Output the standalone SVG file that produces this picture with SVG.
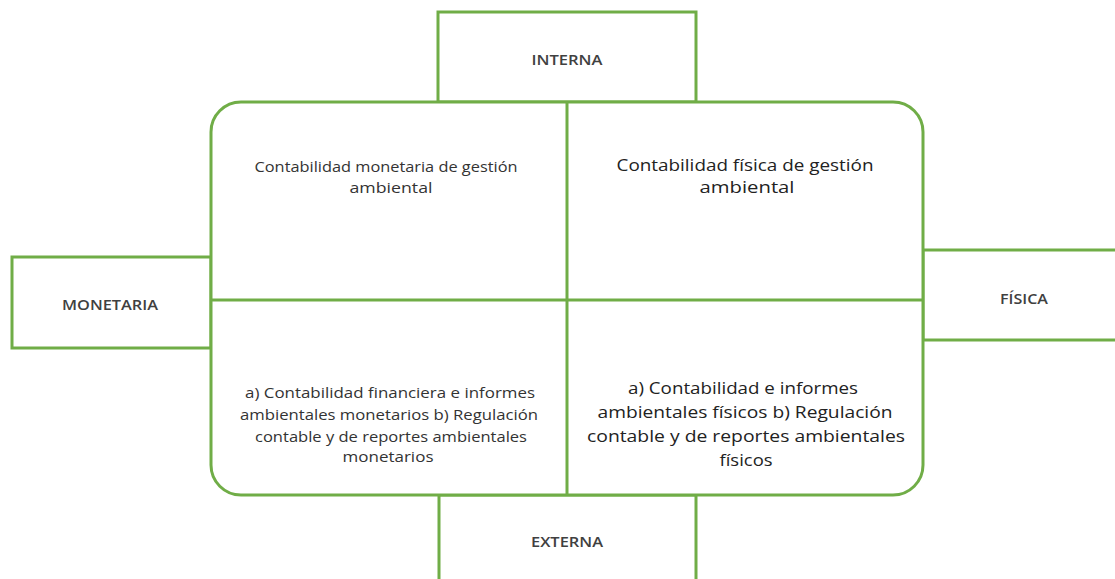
<svg xmlns="http://www.w3.org/2000/svg" width="1115" height="579" viewBox="0 0 1115 579">
<style>
.box{fill:#fff;stroke:#70AD47;stroke-width:3}
.line{stroke:#70AD47;stroke-width:3;fill:none}
.lbl{font-family:"Open Sans","Liberation Sans",sans-serif;font-size:13.5px;font-weight:600;fill:#404040;text-anchor:middle}
.t1{font-family:"Open Sans","Liberation Sans",sans-serif;font-size:14.5px;fill:#333;text-anchor:middle}
.t2{font-family:"Open Sans","Liberation Sans",sans-serif;font-size:17px;fill:#222;text-anchor:middle}
</style>
<rect width="1115" height="579" fill="#fff"/>
<g id="interna">
<rect class="box" x="438" y="12" width="258" height="90"/>
<text class="lbl" x="567" y="65" textLength="71" lengthAdjust="spacingAndGlyphs">INTERNA</text>
</g>
<g id="externa">
<rect class="box" x="439" y="495" width="257" height="100"/>
<text class="lbl" x="567" y="547" textLength="72" lengthAdjust="spacingAndGlyphs">EXTERNA</text>
</g>
<g id="monetaria">
<rect class="box" x="12" y="257" width="199" height="91"/>
<text class="lbl" x="110" y="310" textLength="96" lengthAdjust="spacingAndGlyphs">MONETARIA</text>
</g>
<g id="fisica">
<rect class="box" x="923" y="250" width="200" height="90"/>
<text class="lbl" x="1024" y="304" textLength="48" lengthAdjust="spacingAndGlyphs">FÍSICA</text>
</g>
<g id="matriz">
<rect class="box" x="211" y="102" width="712" height="393" rx="30" ry="30"/>
</g>
<g id="connectors">
<line class="line" x1="567" y1="102" x2="567" y2="495"/>
<line class="line" x1="211" y1="300" x2="923" y2="300"/>
</g>
<g id="q1">
<text class="t1" x="386" y="172" textLength="263" lengthAdjust="spacingAndGlyphs">Contabilidad monetaria de gestión</text>
<text class="t1" x="391" y="193" textLength="83" lengthAdjust="spacingAndGlyphs">ambiental</text>
</g>
<g id="q2">
<text class="t2" x="745" y="171" textLength="257" lengthAdjust="spacingAndGlyphs">Contabilidad física de gestión</text>
<text class="t2" x="747" y="193" textLength="95" lengthAdjust="spacingAndGlyphs">ambiental</text>
</g>
<g id="q3">
<text class="t1" x="390" y="398" textLength="290" lengthAdjust="spacingAndGlyphs">a) Contabilidad financiera e informes</text>
<text class="t1" x="389" y="420" textLength="298" lengthAdjust="spacingAndGlyphs">ambientales monetarios b) Regulación</text>
<text class="t1" x="391" y="442" textLength="272" lengthAdjust="spacingAndGlyphs">contable y de reportes ambientales</text>
<text class="t1" x="388" y="462" textLength="91" lengthAdjust="spacingAndGlyphs">monetarios</text>
</g>
<g id="q4">
<text class="t2" x="743" y="394" textLength="230" lengthAdjust="spacingAndGlyphs">a) Contabilidad e informes</text>
<text class="t2" x="745" y="418" textLength="295" lengthAdjust="spacingAndGlyphs">ambientales físicos b) Regulación</text>
<text class="t2" x="746" y="442" textLength="318" lengthAdjust="spacingAndGlyphs">contable y de reportes ambientales</text>
<text class="t2" x="746" y="466" textLength="53" lengthAdjust="spacingAndGlyphs">físicos</text>
</g>
</svg>
